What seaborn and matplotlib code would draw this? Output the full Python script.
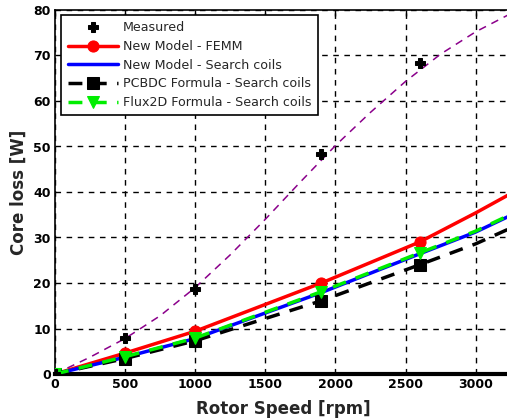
import numpy as np
import pandas as pd
import matplotlib
matplotlib.use("Agg")
import matplotlib.pyplot as plt
import seaborn as sns

# ---- data ----
speed_meas = [0, 500, 1000, 1900, 2600]
loss_meas = [0.0, 7.9, 18.7, 48.4, 68.4]

# dashed fit curve through measured points
speed_fit = [0, 250, 500, 750, 1000, 1250, 1500, 1750, 2000, 2250, 2500, 2750, 3000, 3250]
loss_fit = [0.0, 3.7, 7.8, 12.8, 19.0, 26.2, 34.0, 42.2, 50.2, 57.5, 64.3, 70.3, 75.2, 79.2]

speed_model = [0, 500, 1000, 1900, 2600, 3000, 3260]
loss_femm = [0.0, 4.6, 9.4, 20.0, 29.0, 35.4, 39.8]
loss_nm_coils = [0.0, 3.7, 7.8, 17.9, 26.4, 31.2, 35.0]
loss_pcbdc = [0.0, 3.4, 7.3, 16.1, 24.0, 28.6, 32.2]
loss_flux2d = [0.0, 3.8, 7.9, 18.1, 26.6, 31.4, 35.2]

xticks = [0, 500, 1000, 1500, 2000, 2500, 3000]
yticks = [0, 10, 20, 30, 40, 50, 60, 70, 80]

sns.set_theme(style="white")
plt.rcParams['font.family'] = ['DejaVu Sans']

fig = plt.figure(figsize=(5.07, 4.19), dpi=100)
ax = fig.add_axes([55/507, 1-374/419, 1-55/507+0.01, (374-10)/419])

sns.lineplot(x=speed_fit, y=loss_fit, ax=ax, color='#8B008B', linestyle=(0, (5, 4)),
             linewidth=1.1, legend=False, zorder=2)

mk = [0, 1, 2, 3, 4]
sns.lineplot(x=speed_model, y=loss_femm, ax=ax, color='#ff0000', linewidth=2.5,
             marker='o', markersize=8, markevery=mk, markeredgecolor='#ff0000',
             label='New Model - FEMM', zorder=3)
sns.lineplot(x=speed_model, y=loss_nm_coils, ax=ax, color='#0000ff', linewidth=2.5,
             label='New Model - Search coils', zorder=4)
sns.lineplot(x=speed_model, y=loss_pcbdc, ax=ax, color='black', linewidth=2.5,
             linestyle=(0, (4, 3)), marker='s', markersize=9, markevery=mk,
             markeredgecolor='black',
             label='PCBDC Formula - Search coils', zorder=5)
sns.lineplot(x=speed_model, y=loss_flux2d, ax=ax, color='#00ee00', linewidth=2.5,
             linestyle=(0, (4, 3)), marker='v', markersize=8, markevery=mk,
             markeredgecolor='#00ee00',
             label='Flux2D Formula - Search coils', zorder=6)
sns.lineplot(x=speed_meas, y=loss_meas, ax=ax, color='black', linestyle='',
             marker='P', markersize=7, markeredgecolor='black',
             label='Measured', zorder=7)

ax.set_xlim(0, 3260)
ax.set_ylim(0, 80)
ax.set_xticks(xticks)
ax.set_yticks(yticks)
ax.set_xticklabels([str(t) for t in xticks], fontweight='bold', fontsize=9)
ax.set_yticklabels([str(t) for t in yticks], fontweight='bold', fontsize=9)
ax.grid(True, color='black', linestyle=(0, (4, 4)), linewidth=1.0)
ax.tick_params(axis='both', direction='in', length=4, width=1, top=True, right=False,
               pad=3, colors='black')
for s in ['left', 'top']:
    ax.spines[s].set_color('black')
    ax.spines[s].set_linewidth(1.2)
ax.spines['bottom'].set_color('black')
ax.spines['bottom'].set_linewidth(3)
ax.spines['right'].set_visible(False)

ax.set_xlabel('Rotor Speed [rpm]', fontweight='bold', fontsize=12, labelpad=6)
ax.set_ylabel('Core loss [W]', fontweight='bold', fontsize=12, labelpad=4)

handles, labels = ax.get_legend_handles_labels()
order = ['Measured', 'New Model - FEMM', 'New Model - Search coils',
         'PCBDC Formula - Search coils', 'Flux2D Formula - Search coils']
hmap = dict(zip(labels, handles))
leg = ax.legend([hmap[l] for l in order], order, loc='upper left',
                bbox_to_anchor=(0.008, 0.993), fontsize=9.1, frameon=True, fancybox=False,
                edgecolor='black', framealpha=1, handlelength=4.0, borderpad=0.5,
                labelspacing=0.45, handletextpad=0.4, borderaxespad=0.2)
leg.get_frame().set_linewidth(1.2)

fig.savefig('out.png', dpi=100)
